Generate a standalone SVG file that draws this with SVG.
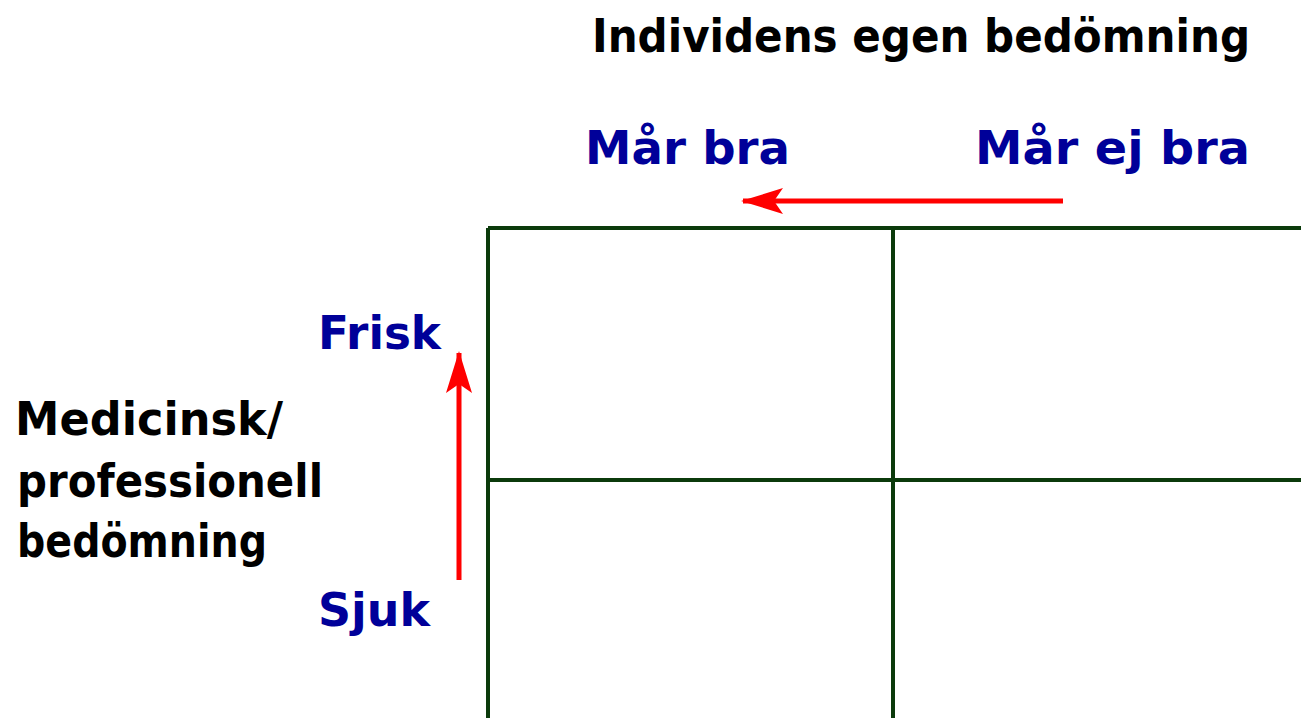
<svg xmlns="http://www.w3.org/2000/svg" width="1301" height="718" viewBox="0 0 1301 718">
<style>
.t{font-family:"DejaVu Sans","Liberation Sans",sans-serif;font-weight:bold;font-size:46px}
.k{fill:#000000}
.b{fill:#000099}
.g{stroke:#0b3a0b;stroke-width:4;fill:none}
.a{stroke:#ff0000;stroke-width:5;fill:none}
</style>
<defs>
<marker id="ah" viewBox="0 0 42 26" refX="40" refY="13" markerWidth="42" markerHeight="26" markerUnits="userSpaceOnUse" orient="auto">
<path d="M0,0 L42,13 L0,26 L9,13 Z" fill="#ff0000"/>
</marker>
</defs>
<g id="grid">
<path class="g" d="M488,228 H1301 M488,228 V718 M893,228 V718 M488,480 H1301"/>
</g>
<g id="connectors">
<line class="a" x1="1063" y1="201" x2="743" y2="201" marker-end="url(#ah)"/>
<line class="a" x1="459" y1="580" x2="459" y2="353" marker-end="url(#ah)"/>
</g>
<g id="title"><text class="t k" x="592" y="52" textLength="658" lengthAdjust="spacingAndGlyphs">Individens egen bedömning</text></g>
<g id="marbra"><text class="t b" x="585" y="164" textLength="205" lengthAdjust="spacingAndGlyphs">Mår bra</text></g>
<g id="marejbra"><text class="t b" x="975" y="164" textLength="275" lengthAdjust="spacingAndGlyphs">Mår ej bra</text></g>
<g id="frisk"><text class="t b" x="318" y="349" textLength="123" lengthAdjust="spacingAndGlyphs">Frisk</text></g>
<g id="sjuk"><text class="t b" x="318" y="626" textLength="112" lengthAdjust="spacingAndGlyphs">Sjuk</text></g>
<g id="medicinsk">
<text class="t k" x="15" y="435" textLength="268" lengthAdjust="spacingAndGlyphs">Medicinsk/</text>
<text class="t k" x="17" y="497" textLength="306" lengthAdjust="spacingAndGlyphs">professionell</text>
<text class="t k" x="17" y="557" textLength="250" lengthAdjust="spacingAndGlyphs">bedömning</text>
</g>
</svg>
